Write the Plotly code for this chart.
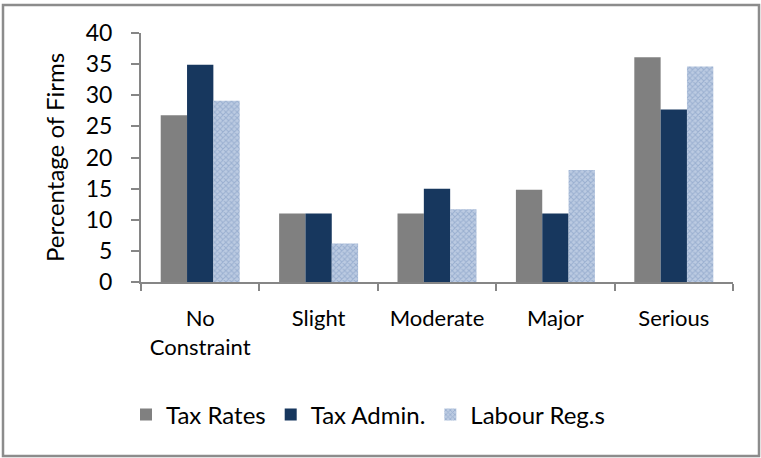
import plotly.graph_objects as go

categories = ["No<br>Constraint", "Slight", "Moderate", "Major", "Serious"]
tax_rates = [26.8, 11.0, 11.0, 14.8, 36.1]
tax_admin = [34.9, 11.0, 15.0, 11.0, 27.7]
labour_regs = [29.1, 6.2, 11.7, 18.0, 34.6]
y_ticks = [0, 5, 10, 15, 20, 25, 30, 35, 40]

FONT = "Lato, Open Sans, sans-serif"
W, H = 761, 458
L, R, T, B = 141, 28, 33, 176
pw = W - L - R
ph = H - T - B

fig = go.Figure()
fig.add_trace(go.Bar(x=categories, y=tax_rates, name="Tax Rates",
                     marker=dict(color="#808080", line=dict(width=0))))
fig.add_trace(go.Bar(x=categories, y=tax_admin, name="Tax Admin.",
                     marker=dict(color="#17375E", line=dict(width=0))))
fig.add_trace(go.Bar(x=categories, y=labour_regs, name="Labour Reg.s",
                     marker=dict(color="#bccbe2", line=dict(width=0),
                                 pattern=dict(shape="x", fgcolor="#7893bd",
                                              size=4, solidity=0.45))))

def px_x(p):
    return (p - L) / pw

def px_y(p):
    return (H - B - p) / ph

fig.add_shape(type="rect", xref="paper", yref="paper",
              x0=px_x(3), x1=px_x(759), y0=px_y(456), y1=px_y(5),
              line=dict(color="#8c8c8c", width=2.5), layer="below")

fig.update_layout(
    width=W, height=H,
    margin=dict(l=L, r=R, t=T, b=B, autoexpand=False),
    paper_bgcolor="white", plot_bgcolor="white",
    barmode="group", bargap=0.333, bargroupgap=0,
    font=dict(family=FONT, size=22, color="#000000"),
    showlegend=True,
    legend=dict(orientation="h", x=px_x(126), xanchor="left",
                y=px_y(415), yanchor="middle",
                font=dict(family=FONT, size=24), itemwidth=30,
                tracegroupgap=0, bgcolor="rgba(0,0,0,0)"),
    xaxis=dict(type="category", showline=True, linecolor="#868686", linewidth=2,
               ticks="outside", tickson="boundaries", ticklen=7,
               tickcolor="#868686", tickwidth=2, ticklabelstandoff=16,
               tickfont=dict(family=FONT, size=22), showgrid=False),
    yaxis=dict(range=[0, 40], tickvals=y_ticks, showline=True,
               linecolor="#868686", linewidth=2, ticks="outside", ticklen=8,
               tickcolor="#868686", tickwidth=2, showgrid=False, zeroline=False,
               ticklabelstandoff=14,
               tickfont=dict(family=FONT, size=23),
               title=dict(text="Percentage of Firms", standoff=14,
                          font=dict(family=FONT, size=24))),
)

fig.write_html("out.html")
